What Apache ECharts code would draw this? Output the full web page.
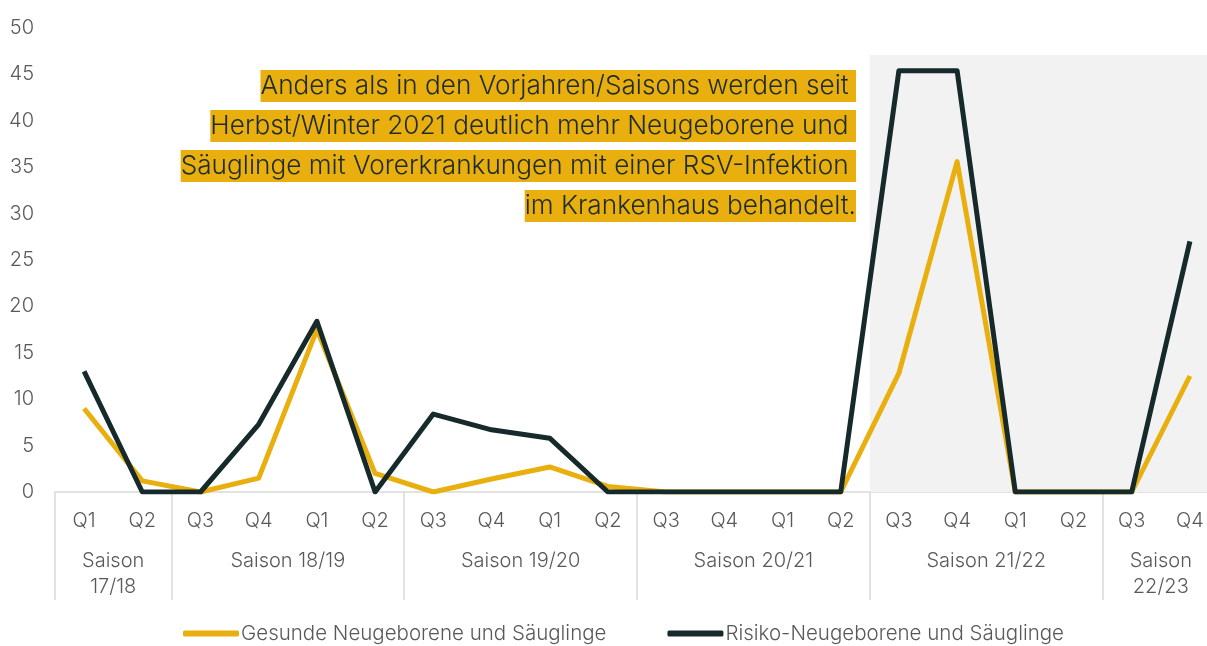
<!DOCTYPE html>
<html>
<head>
<meta charset="utf-8">
<script src="https://cdn.jsdelivr.net/npm/echarts@6/dist/echarts.min.js"></script>
<style>
  html, body { margin: 0; padding: 0; background: #fff; overflow: hidden; }
  #chart { width: 1207px; height: 646px; }
</style>
</head>
<body>
<div id="chart"></div>
<script>
// quarters along the x axis
const quarters = ['Q1','Q2','Q3','Q4','Q1','Q2','Q3','Q4','Q1','Q2','Q3','Q4','Q1','Q2','Q3','Q4','Q1','Q2','Q3','Q4'];
// season groups: label and centre (in category units)
const seasonNames = ['Saison\n17/18','Saison 18/19','Saison 19/20','Saison 20/21','Saison 21/22','Saison\n22/23'];
const seasonCenters = [1, 4, 8, 12, 16, 19];
const seasonBounds = [0, 2, 6, 10, 14, 18, 20];
// series values
const gesund = [9, 1.2, 0, 1.5, 17.5, 2, 0, 1.4, 2.7, 0.6, 0, 0, 0, 0, 12.8, 35.6, 0, 0, 0, 12.5];
const risiko = [13, 0, 0, 7.3, 18.4, 0, 8.4, 6.7, 5.8, 0, 0, 0, 0, 0, 45.4, 45.4, 0, 0, 0, 27];
// y ticks
const yMin = 0, yMax = 50, yStep = 5;
// shaded period (Saison 21/22 onwards)
const shadeFrom = 14, shadeTo = 20, shadeTop = 47.1;

const note = [
  'Anders als in den Vorjahren/Saisons werden seit ',
  'Herbst/Winter 2021 deutlich mehr Neugeborene und ',
  'Säuglinge mit Vorerkrankungen mit einer RSV-Infektion ',
  'im Krankenhaus behandelt.'
];

const FONT = 'Inter';
const GREY = '#595959';
const YELLOW = '#E9AF0F';
const DARK = '#172A2B';

const chart = echarts.init(document.getElementById('chart'));

const option = {
  animation: false,
  grid: { left: 55, top: 28, width: 1164, height: 464, outerBoundsMode: 'none', containLabel: false },
  xAxis: [
    {
      type: 'category',
      data: quarters,
      boundaryGap: true,
      axisLine: { show: true, lineStyle: { color: '#d9d9d9', width: 1.5 } },
      axisTick: { show: false },
      axisLabel: { color: GREY, fontFamily: FONT, fontWeight: 300, fontSize: 20, margin: 19 },
      splitLine: { show: false }
    },
    {
      type: 'value',
      position: 'bottom',
      min: 0,
      max: 20,
      axisLine: { show: false },
      axisTick: {
        show: true,
        customValues: seasonBounds,
        length: 108,
        lineStyle: { color: '#d9d9d9', width: 1.5 }
      },
      axisLabel: {
        customValues: seasonCenters,
        formatter: function (v) {
          const i = seasonCenters.indexOf(v);
          return i >= 0 ? seasonNames[i] : '';
        },
        color: GREY, fontFamily: FONT, fontWeight: 300, fontSize: 20,
        lineHeight: 26, margin: 56
      },
      splitLine: { show: false }
    }
  ],
  yAxis: {
    type: 'value',
    min: yMin,
    max: yMax,
    interval: yStep,
    axisLine: { show: false },
    axisTick: { show: false },
    splitLine: { show: false },
    axisLabel: { color: GREY, fontFamily: FONT, fontWeight: 300, fontSize: 20, margin: 21 }
  },
  legend: {
    top: 618,
    left: 178,
    itemWidth: 56,
    itemHeight: 6,
    itemGap: 61,
    icon: 'roundRect',
    textStyle: { color: GREY, fontFamily: FONT, fontWeight: 300, fontSize: 20.5, padding: [0, 0, 0, -3] },
    data: ['Gesunde Neugeborene und Säuglinge', 'Risiko-Neugeborene und Säuglinge']
  },
  series: [
    {
      name: 'shade',
      type: 'line',
      xAxisIndex: 1,
      data: [],
      silent: true,
      markArea: {
        silent: true,
        itemStyle: { color: '#f2f2f2' },
        data: [[{ xAxis: shadeFrom, yAxis: shadeTop }, { xAxis: shadeTo, yAxis: 0 }]]
      },
      z: 0
    },
    {
      name: 'Gesunde Neugeborene und Säuglinge',
      type: 'line',
      data: gesund,
      showSymbol: false,
      symbol: 'none',
      itemStyle: { color: YELLOW },
      lineStyle: { color: YELLOW, width: 5, join: 'round' },
      z: 2
    },
    {
      name: 'Risiko-Neugeborene und Säuglinge',
      type: 'line',
      data: risiko,
      showSymbol: false,
      symbol: 'none',
      itemStyle: { color: DARK },
      lineStyle: { color: DARK, width: 5, join: 'round' },
      z: 3
    }
  ],
  graphic: note.map(function (t, i) {
    return {
      type: 'text',
      right: 1207 - 856,
      top: 70 + i * 40,
      z: 10,
      style: {
        text: t,
        fill: '#1d2b2b',
        font: '300 26.2px Inter',
        backgroundColor: YELLOW,
        padding: [0, 0, 0, 0],
        lineHeight: 32
      }
    };
  })
};

chart.setOption(option);
</script>
</body>
</html>
